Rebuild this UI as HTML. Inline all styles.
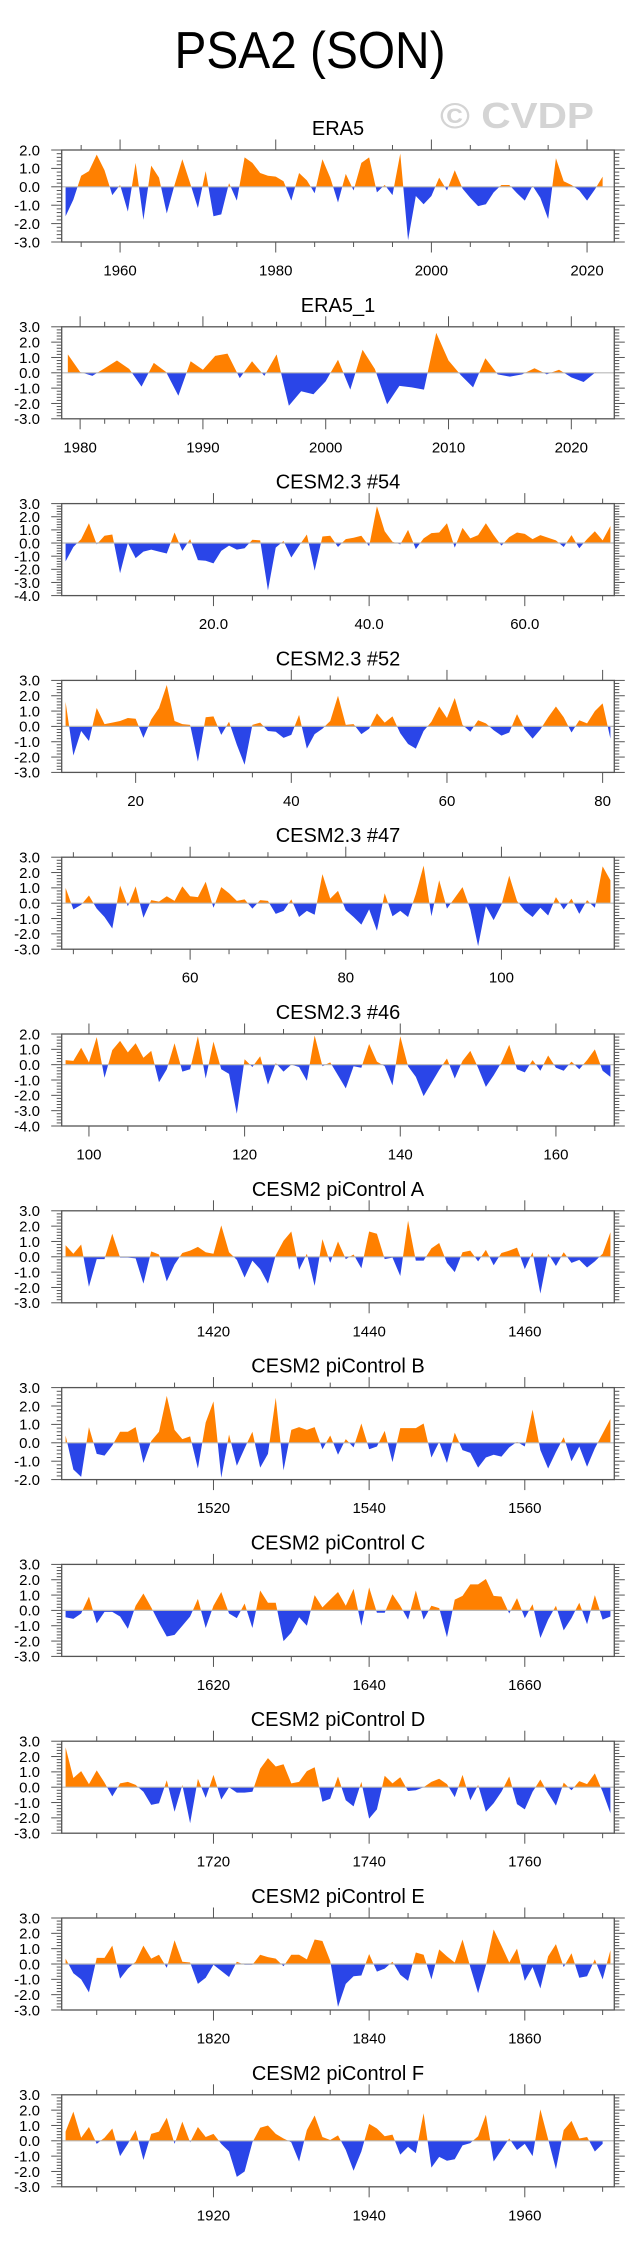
<!DOCTYPE html>
<html><head><meta charset="utf-8"><title>PSA2 (SON)</title>
<style>
html,body{margin:0;padding:0;background:#fff;}
svg{display:block;font-family:"Liberation Sans",Arial,sans-serif;}
</style></head>
<body>
<svg id="chart" width="641" height="2253" viewBox="0 0 641 2253" xmlns="http://www.w3.org/2000/svg">
<text x="310" y="68" font-size="52" text-anchor="middle" textLength="271" lengthAdjust="spacingAndGlyphs" fill="#000">PSA2 (SON)</text>
<text x="440" y="128" font-size="36" font-weight="bold" textLength="154" lengthAdjust="spacingAndGlyphs" fill="#d4d4d4">© CVDP</text>
</svg>
<script>
const p1Values=[-1.6,-0.7,0.6,0.85,1.75,0.9,-0.45,0.1,-1.35,1.3,-1.8,1.15,0.5,-1.45,0.1,1.5,0.2,-1.15,0.85,-1.6,-1.5,0.2,-0.75,1.6,1.3,0.75,0.6,0.55,0.3,-0.75,0.75,0.35,-0.35,1.5,0.5,-0.85,0.7,-0.2,1.3,1.6,-0.3,0.1,-0.45,1.8,-2.9,-0.5,-0.95,-0.5,0.5,-0.2,0.9,-0.1,-0.6,-1.05,-0.95,-0.3,0.1,0.1,-0.35,-0.75,0.05,-0.6,-1.75,1.55,0.3,0.1,-0.2,-0.75,-0.15,0.55];
const p2Values=[1.2,0.05,-0.2,0.3,0.8,0.25,-0.9,0.65,0.05,-1.5,0.75,0.2,1.1,1.25,-0.35,0.75,-0.2,1.2,-2.15,-1.2,-1.4,-0.55,0.85,-1.1,1.5,0.25,-2.05,-0.85,-0.95,-1.1,2.6,0.8,-0.15,-0.95,0.95,-0.1,-0.25,-0.1,0.3,-0.1,0.2,-0.3,-0.6,0.05];
const p3Values=[-1.4,-0.3,0.3,1.5,-0.1,0.55,0.65,-2.3,0.0,-1.15,-0.65,-0.5,-0.65,-0.8,0.8,-0.6,0.3,-1.3,-1.35,-1.55,-0.6,-0.2,-0.5,-0.4,0.25,0.2,-3.6,-0.35,0.15,-1.1,-0.2,0.65,-2.1,0.5,0.55,-0.3,0.3,0.4,0.55,-0.25,2.8,0.9,0.1,-0.1,1.0,-0.45,0.35,0.75,0.8,1.5,-0.35,1.15,0.35,0.6,1.5,0.6,-0.2,0.45,0.8,0.7,0.3,0.6,0.4,0.2,-0.3,0.6,-0.4,0.3,0.9,0.2,1.3];
const p4Values=[1.6,-1.9,-0.3,-0.95,1.2,0.15,0.25,0.35,0.55,0.5,-0.75,0.45,1.2,2.7,0.35,0.15,0.1,-2.3,0.6,0.65,-0.55,0.3,-1.2,-2.5,0.1,0.25,-0.3,-0.35,-0.75,-0.55,0.75,-1.45,-0.5,-0.15,0.35,2.0,0.1,0.15,-0.5,-0.15,0.85,0.25,0.65,-0.45,-1.15,-1.45,-0.3,0.3,1.3,0.55,1.85,0.1,-0.35,0.4,0.2,-0.25,-0.6,-0.4,0.8,-0.2,-0.8,-0.2,0.6,1.3,0.6,-0.4,0.4,0.2,1.0,1.5,-0.8];
const p5Values=[1.0,-0.4,-0.1,0.5,-0.35,-0.9,-1.65,1.15,-0.2,1.1,-0.95,0.2,0.1,0.45,0.15,1.1,0.45,0.4,1.4,-0.3,1.05,0.65,0.15,0.25,-0.35,0.2,0.15,-0.7,-0.5,0.25,-0.9,-0.5,-0.75,1.9,0.3,0.8,-0.45,-0.9,-1.4,-0.4,-1.8,0.65,-0.85,-0.5,-0.9,0.6,2.45,-0.85,1.5,-0.35,0.35,1.05,-0.4,-2.8,-0.2,-1.1,-0.1,1.8,0.15,-0.5,-0.9,-0.3,-0.8,0.4,-0.4,0.3,-0.7,0.2,-0.3,2.4,1.5];
const p6Values=[0.3,0.25,1.1,0.15,1.8,-0.85,0.95,1.55,0.8,1.4,0.45,0.9,-1.15,-0.3,1.4,-0.45,-0.3,1.85,-0.9,1.5,-0.3,-0.6,-3.2,0.35,-0.15,0.55,-1.3,0.1,-0.45,0.0,-0.15,-1.05,1.9,-0.1,0.15,-0.7,-1.55,-0.1,-0.2,1.35,0.2,-0.1,-1.35,1.85,-0.1,-0.8,-2.05,-1.2,-0.35,0.4,-0.9,0.25,0.9,-0.2,-1.45,-0.7,0.15,1.3,-0.3,-0.5,0.3,-0.4,0.6,-0.2,-0.4,0.2,-0.3,0.3,1.0,-0.4,-0.8];
const p7Values=[0.75,0.2,0.8,-1.95,-0.15,-0.15,1.5,-0.05,-0.05,-0.1,-1.75,0.35,0.15,-1.6,-0.5,0.25,0.4,0.65,0.3,0.2,2.05,0.3,-0.2,-1.35,-0.25,-0.8,-1.75,0.1,1.05,1.65,-0.85,0.2,-1.9,1.15,-0.4,1.0,-0.15,0.15,-0.75,1.65,1.5,-0.15,-0.05,-1.25,2.35,-0.25,-0.25,0.55,0.9,-0.4,-1.0,0.3,0.4,-0.3,0.45,-0.55,0.25,0.4,0.6,-0.8,0.3,-2.4,0.2,-0.6,0.3,-0.4,-0.2,-0.7,-0.3,0.2,1.6];
const p8Values=[0.4,-1.45,-1.85,0.85,-0.6,-0.7,-0.15,0.6,0.6,0.85,-1.1,0.1,0.6,2.55,0.7,0.2,0.35,-1.4,1.1,2.25,-1.9,0.45,-1.25,-0.3,0.6,-1.35,-0.6,2.45,-1.5,0.7,0.85,0.7,0.85,-0.35,0.4,-0.65,0.2,-0.25,1.05,-0.35,-0.2,0.65,-1.05,0.8,0.8,0.8,1.05,-0.8,0.05,-1.1,0.55,-0.4,-0.55,-1.35,-0.8,-0.65,-0.75,-0.25,0.05,-0.2,1.8,-0.4,-1.4,-0.5,0.3,-1.0,-0.2,-1.3,-0.3,0.5,1.3];
const p9Values=[-0.45,-0.55,-0.2,0.9,-0.85,-0.1,-0.1,-0.4,-1.2,0.3,1.1,0.2,-0.8,-1.7,-1.6,-1.0,-0.4,0.75,-1.15,0.3,1.2,-0.2,-0.5,0.45,-1.15,1.3,0.5,0.5,-2.0,-1.45,-0.45,-1.0,1.0,0.2,0.7,1.2,0.3,1.4,-1.0,1.5,-0.15,-0.15,1.05,0.3,-0.6,1.3,-0.6,0.3,0.15,-1.75,0.7,0.95,1.7,1.7,2.05,0.95,0.9,-0.2,0.8,-0.5,0.4,-1.8,-0.6,0.3,-1.3,-0.5,0.5,-0.9,1.0,-0.6,-0.4];
const p10Values=[2.6,0.6,1.05,0.2,1.1,0.3,-0.6,0.25,0.35,0.15,-0.3,-1.15,-1.05,0.45,-1.6,0.15,-2.35,0.55,-0.7,0.8,-0.8,0.0,-0.35,-0.35,-0.3,1.2,1.9,1.35,1.5,0.25,0.35,1.05,1.3,-0.95,-0.75,0.7,-0.85,-1.25,0.35,-2.05,-1.45,0.75,0.25,0.65,-0.25,-0.2,0.0,0.35,0.55,0.2,-0.65,0.8,-0.85,0.15,-1.6,-1.05,-0.3,0.7,-1.1,-1.45,-0.3,0.5,-0.4,-1.2,0.3,-0.2,0.4,0.2,0.9,-0.3,-1.7];
const p11Values=[0.35,-0.6,-1.0,-1.85,0.4,0.4,1.2,-0.95,-0.3,0.15,1.2,0.35,0.6,-0.25,1.55,0.15,0.1,-1.3,-0.9,-0.05,-0.45,-0.85,0.15,-0.05,-0.05,0.6,0.45,0.35,-0.15,0.6,0.6,0.3,1.6,1.5,0.2,-2.8,-1.3,-0.8,-0.75,0.65,-0.5,-0.3,0.15,-0.7,-1.1,0.75,0.6,-1.0,0.95,0.5,0.1,1.6,-0.2,-1.9,-0.1,2.25,1.2,0.1,1.0,-1.1,-0.2,-1.6,0.5,1.3,-0.2,0.7,-0.9,-0.8,0.3,-1.0,0.9];
const p12Values=[0.6,1.9,0.2,0.9,-0.2,0.2,0.8,-1.0,-0.2,0.7,-1.25,0.45,0.6,1.5,-0.2,1.25,-0.1,0.9,0.25,0.45,-0.2,-0.7,-2.35,-2.0,-0.1,0.85,1.0,0.45,0.15,-0.1,-1.35,0.7,1.65,0.25,0.05,0.35,-0.6,-1.95,-0.7,1.1,0.8,0.3,0.4,-0.9,-0.4,-0.8,1.8,-1.75,-1.05,-1.3,-1.2,-0.3,-0.15,0.3,1.7,-1.35,-0.6,0.15,-0.6,-0.2,-1.0,2.05,0.1,-1.85,0.7,1.3,0.15,0.25,-0.7,-0.2];
const panelTitles=["ERA5","ERA5_1","CESM2.3 #54","CESM2.3 #52","CESM2.3 #47","CESM2.3 #46","CESM2 piControl A","CESM2 piControl B","CESM2 piControl C","CESM2 piControl D","CESM2 piControl E","CESM2 piControl F"];
const panelStarts=[1953,1979,1,11,44,97,1401,1501,1601,1701,1801,1901];
const p1Ticks=["1960","1980","2000","2020"];
const p2Ticks=["1980","1990","2000","2010","2020"];
const p3Ticks=["20.0","40.0","60.0"];
const p4Ticks=["20","40","60","80"];
const p5Ticks=["60","80","100"];
const p6Ticks=["100","120","140","160"];
const p7Ticks=["1420","1440","1460"];
const p8Ticks=["1520","1540","1560"];
const p9Ticks=["1620","1640","1660"];
const p10Ticks=["1720","1740","1760"];
const p11Ticks=["1820","1840","1860"];
const p12Ticks=["1920","1940","1960"];
const yMins=[-3,-3,-4,-3,-3,-4,-3,-2,-3,-3,-3,-3];
const yMaxs=[2,3,3,3,3,2,3,3,3,3,3,3];

const allValues=[p1Values,p2Values,p3Values,p4Values,p5Values,p6Values,p7Values,p8Values,p9Values,p10Values,p11Values,p12Values];
const allTicks=[p1Ticks,p2Ticks,p3Ticks,p4Ticks,p5Ticks,p6Ticks,p7Ticks,p8Ticks,p9Ticks,p10Ticks,p11Ticks,p12Ticks];
const xMinorSteps=[5,2,5,5,5,5,5,5,5,5,5,5];
const xRanges=[[1952.5,2023.5],[1978.5,2023.5],[0.5,71.5],[10.5,81.5],[43.5,114.5],[96.5,167.5],[1400.5,1471.5],[1500.5,1571.5],[1600.5,1671.5],[1700.5,1771.5],[1800.5,1871.5],[1900.5,1971.5]];

const NS="http://www.w3.org/2000/svg";
const svg=document.getElementById('chart');
const L=61.7,R=614.3,H=92;
function mk(tag,attrs,parent){const e=document.createElementNS(NS,tag);for(const k in attrs)e.setAttribute(k,attrs[k]);(parent||svg).appendChild(e);return e;}

for(let i=0;i<12;i++){
  const top=150+i*176.8, bot=top+H;
  const vals=allValues[i], start=panelStarts[i];
  const xr=xRanges[i], ymin=yMins[i], ymax=yMaxs[i];
  const xs=v=>L+(v-xr[0])/(xr[1]-xr[0])*(R-L);
  const ys=v=>bot-(v-ymin)/(ymax-ymin)*H;
  const g=mk('g',{});
  
  
  const t=mk('text',{x:(L+R)/2,y:top-15,'font-size':20,'text-anchor':'middle',fill:'#000'},g);
  
  
  t.textContent=panelTitles[i];
  const pts=[];
  for(let k=0;k<vals.length;k++){
    const x=start+k, v=vals[k];
    if(k>0){const pv=vals[k-1];if((pv>0&&v<0)||(pv<0&&v>0)){const f=pv/(pv-v);pts.push([x-1+f,0]);}}
    pts.push([x,v]);
  }
  const x0=xs(pts[0][0]), x1=xs(pts[pts.length-1][0]), zy=ys(0);
  let dp='M'+x0+','+zy, dn='M'+x0+','+zy;
  for(const p of pts){dp+='L'+xs(p[0]).toFixed(2)+','+ys(Math.max(p[1],0)).toFixed(2);dn+='L'+xs(p[0]).toFixed(2)+','+ys(Math.min(p[1],0)).toFixed(2);}
  dp+='L'+x1+','+zy+'Z'; dn+='L'+x1+','+zy+'Z';
  const ap=mk('path',{d:dp,fill:'#ff8000'},g);
  
  
  const an=mk('path',{d:dn,fill:'#2a45e8'},g);
  
  
  const zl=mk('line',{x1:L,x2:R,y1:zy,y2:zy,stroke:'#b8b8b8','stroke-width':1.2},g);
  
  
  for(let v=ymin;v<=ymax+1e-6;v+=0.2){
    const y=ys(v), major=Math.abs(v-Math.round(v))<1e-6;
    const len=major?10.5:5;
    mk('line',{x1:L-len,x2:L,y1:y,y2:y,stroke:'#555','stroke-width':1},g);
    mk('line',{x1:R,x2:R+len,y1:y,y2:y,stroke:'#555','stroke-width':1},g);
    if(major){
      const yl=mk('text',{x:40,y:y+5.3,'font-size':15,'text-anchor':'end',fill:'#000'},g);
      
      
      yl.textContent=Math.round(v).toFixed(1);
    }
  }
  const ms=xMinorSteps[i];
  const majorVals=allTicks[i].map(parseFloat);
  const majorStep=majorVals.length>1?majorVals[1]-majorVals[0]:20;
  for(let v=Math.ceil(xr[0]/ms)*ms;v<=xr[1];v+=ms){
    const x=xs(v), major=Math.abs(v/majorStep-Math.round(v/majorStep))<1e-6;
    const len=major?10.5:5;
    mk('line',{x1:x,x2:x,y1:bot,y2:bot+len,stroke:'#555','stroke-width':1},g);
    mk('line',{x1:x,x2:x,y1:top-len,y2:top,stroke:'#555','stroke-width':1},g);
  }
  allTicks[i].forEach(lbl=>{
    const xl=mk('text',{x:xs(parseFloat(lbl)),y:bot+33.5,'font-size':15,'text-anchor':'middle',fill:'#000'},g);
    
    
    xl.textContent=lbl;
  });
  const box=mk('rect',{x:L,y:top,width:R-L,height:H,fill:'none',stroke:'#555','stroke-width':1.3},g);
  
  
}
</script>
</body></html>
